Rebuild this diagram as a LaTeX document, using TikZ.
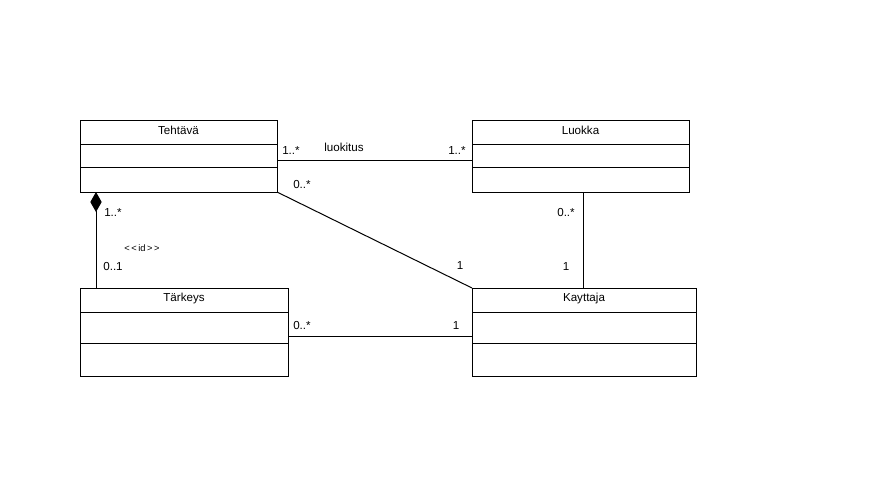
\documentclass[tikz,border=0pt]{standalone}
\usepackage{fontspec}
\setmainfont{Liberation Sans}
\usetikzlibrary{arrows.meta}
\begin{document}
\begin{tikzpicture}[x=0.75pt,y=-0.75pt,
  cls/.style={draw, line width=0.75pt, inner sep=0pt, outer sep=0pt, anchor=north west},
  ttl/.style={font=\fontsize{8.7}{10}\selectfont, inner sep=0pt},
  lbl/.style={font=\fontsize{8.7}{10}\selectfont, inner sep=0pt},
  small/.style={font=\fontsize{7}{8}\selectfont, inner sep=0pt},
  conn/.style={line width=0.75pt}]
\useasboundingbox (0,0) rectangle (875,496);
% classes
\node[cls, minimum width=197*0.75pt, minimum height=72*0.75pt] (teh) at (80,120) {};
\node[cls, minimum width=217*0.75pt, minimum height=72*0.75pt] (luo) at (472,120) {};
\node[cls, minimum width=208*0.75pt, minimum height=88*0.75pt] (tar) at (80,288) {};
\node[cls, minimum width=224*0.75pt, minimum height=88*0.75pt] (kay) at (472,288) {};
% compartments
\draw[conn] ([yshift=-24*0.75pt]teh.north west) -- ([yshift=-24*0.75pt]teh.north east);
\draw[conn] ([yshift=-47*0.75pt]teh.north west) -- ([yshift=-47*0.75pt]teh.north east);
\draw[conn] ([yshift=-24*0.75pt]luo.north west) -- ([yshift=-24*0.75pt]luo.north east);
\draw[conn] ([yshift=-47*0.75pt]luo.north west) -- ([yshift=-47*0.75pt]luo.north east);
\draw[conn] ([yshift=-24*0.75pt]tar.north west) -- ([yshift=-24*0.75pt]tar.north east);
\draw[conn] ([yshift=-55*0.75pt]tar.north west) -- ([yshift=-55*0.75pt]tar.north east);
\draw[conn] ([yshift=-24*0.75pt]kay.north west) -- ([yshift=-24*0.75pt]kay.north east);
\draw[conn] ([yshift=-55*0.75pt]kay.north west) -- ([yshift=-55*0.75pt]kay.north east);
% titles
\node[ttl] (tehT) at (178.5,130) {Tehtävä};
\node[ttl] (luoT) at (580.5,130) {Luokka};
\node[ttl] (tarT) at (184,298) {Tärkeys};
\node[ttl] (kayT) at (584,298) {Kayttaja};
% connectors
\draw[conn] ([yshift=-3pt]teh.east) -- ([yshift=-3pt]luo.west);
\draw[conn] (teh.south east) -- (kay.north west);
\draw[conn] ([xshift=2.6pt]luo.south) -- ([xshift=2.6pt]luo.south |- kay.north);
\draw[conn] ([yshift=-3pt]tar.east) -- ([yshift=-3pt]kay.west);
\draw[conn, {Diamond[length=15pt,width=8.5pt]}-] ([xshift=12pt]teh.south west) -- ([xshift=12pt]tar.north west);
% labels
\node[lbl] (l1) at (291,151) {1..*};
\node[lbl] (l2) at (344,147) {luokitus};
\node[lbl] (l3) at (457,151) {1..*};
\node[lbl] (l4) at (302,185) {0..*};
\node[lbl] (l5) at (113,213) {1..*};
\node[small] (l6) at (142,248) {{<}\,{<}\,id\,{>}\,{>}};
\node[lbl] (l7) at (113,267) {0..1};
\node[lbl] (l8) at (566,213) {0..*};
\node[lbl] (l9) at (566,267) {1};
\node[lbl] (l10) at (460,266) {1};
\node[lbl] (l11) at (302,326) {0..*};
\node[lbl] (l12) at (456,326) {1};
\end{tikzpicture}
\end{document}
